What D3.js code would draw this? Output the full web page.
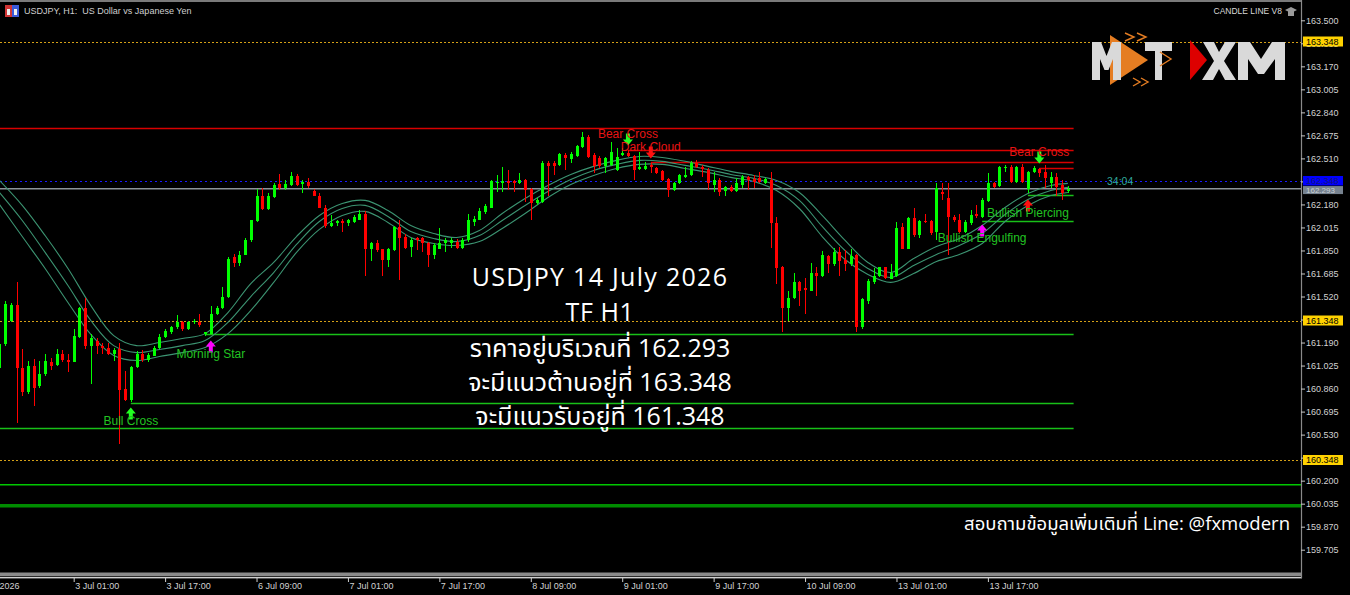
<!DOCTYPE html>
<html><head><meta charset="utf-8">
<script src="https://cdn.jsdelivr.net/npm/d3@7"></script>
<style>
html,body{margin:0;padding:0;background:#000;overflow:hidden;}
svg{display:block;}
</style></head><body>
<svg id="c" width="1350" height="595"></svg>
<script>
// ---------------- DATA ----------------
const openP = [
161.011,161.182,161.348,161.462,161.011,160.832,161.025,160.881,160.967,161.054,
161.032,161.111,161.068,161.054,161.233,161.441,161.168,161.204,161.168,161.154,
161.111,161.147,160.860,160.781,161.018,161.111,161.068,161.097,161.154,161.233,
161.269,161.298,161.334,161.290,161.334,161.334,161.248,161.254,161.398,161.441,
161.513,161.800,161.757,161.821,161.922,162.058,162.237,162.144,162.230,162.323,
162.295,162.316,162.381,162.323,162.338,162.273,162.244,162.158,162.029,162.044,
162.058,162.044,162.051,162.072,162.115,161.857,161.907,161.857,161.785,161.850,
162.015,161.950,161.878,161.936,161.936,161.900,161.814,161.864,161.900,161.900,
161.914,161.871,161.922,162.051,162.072,162.123,162.158,162.331,162.331,162.345,
162.345,162.331,162.352,162.288,162.187,162.194,162.474,162.474,162.460,162.532,
162.503,162.524,162.589,162.661,162.532,162.510,162.453,162.460,162.424,162.532,
162.546,162.524,162.431,162.431,162.460,162.438,162.417,162.359,162.280,162.331,
162.374,162.388,162.474,162.446,162.424,162.316,162.352,162.273,162.302,162.273,
162.316,162.374,162.359,162.367,162.331,162.352,162.044,161.728,161.441,161.506,
161.621,161.578,161.563,161.685,161.670,161.807,161.750,161.836,161.785,161.750,
161.814,161.298,161.491,161.621,161.670,161.728,161.649,161.670,162.015,161.864,
162.080,161.958,162.058,162.058,161.979,162.266,162.223,162.087,162.065,161.979,
162.044,162.108,162.087,162.202,162.331,162.309,162.438,162.446,162.338,162.446,
162.288,162.410,162.431,162.410,162.331,162.374,162.316,162.273];
const highP = [
161.204,161.491,161.477,161.621,161.147,161.061,161.075,161.061,161.111,161.082,
161.147,161.133,161.111,161.290,161.448,161.506,161.254,161.226,161.190,161.190,
161.154,161.190,160.989,161.025,161.126,161.133,161.118,161.168,161.248,161.290,
161.312,161.384,161.348,161.348,161.362,161.398,161.269,161.455,161.455,161.585,
161.800,161.828,161.843,161.936,162.072,162.288,162.295,162.259,162.331,162.395,
162.352,162.410,162.395,162.352,162.367,162.288,162.259,162.173,162.101,162.072,
162.079,162.079,162.101,162.137,162.130,161.914,161.922,161.864,161.871,162.022,
162.065,161.965,161.936,161.950,161.950,161.914,161.900,162.008,161.936,161.943,
161.929,161.936,162.115,162.094,162.158,162.180,162.352,162.388,162.446,162.424,
162.352,162.403,162.359,162.295,162.223,162.489,162.489,162.489,162.546,162.546,
162.553,162.603,162.697,162.675,162.546,162.524,162.517,162.625,162.582,162.582,
162.567,162.532,162.553,162.481,162.474,162.446,162.424,162.367,162.338,162.395,
162.446,162.489,162.496,162.460,162.438,162.410,162.367,162.309,162.316,162.367,
162.388,162.381,162.388,162.410,162.367,162.410,162.087,161.742,161.556,161.692,
161.628,161.656,161.757,161.728,161.843,161.821,161.871,161.878,161.850,161.857,
161.828,161.506,161.642,161.721,161.735,161.735,161.750,162.051,162.044,162.087,
162.151,162.065,162.115,162.065,162.331,162.331,162.331,162.101,162.115,162.065,
162.137,162.173,162.223,162.403,162.338,162.453,162.460,162.460,162.453,162.467,
162.417,162.453,162.438,162.460,162.410,162.403,162.352,162.309];
const lowP = [
160.989,161.168,161.334,160.616,160.810,160.824,160.738,160.867,160.953,160.996,
161.025,161.047,160.982,161.047,161.219,161.147,160.896,161.111,161.111,161.104,
161.061,160.465,160.774,160.767,161.004,161.047,161.054,161.090,161.147,161.219,
161.254,161.290,161.276,161.283,161.326,161.298,161.240,161.248,161.391,161.434,
161.506,161.735,161.742,161.814,161.914,162.051,162.137,162.137,162.223,162.280,
162.280,162.309,162.309,162.259,162.295,162.237,162.151,162.008,162.015,162.029,
161.979,162.029,162.044,162.065,161.670,161.778,161.836,161.670,161.728,161.843,
161.635,161.857,161.800,161.850,161.836,161.735,161.792,161.857,161.836,161.871,
161.864,161.864,161.914,162.029,162.065,162.115,162.151,162.266,162.266,162.280,
162.266,162.323,162.194,162.065,162.173,162.187,162.237,162.388,162.453,162.424,
162.474,162.517,162.582,162.510,162.403,162.438,162.403,162.453,162.417,162.524,
162.517,162.352,162.424,162.424,162.403,162.395,162.345,162.230,162.273,162.323,
162.367,162.381,162.438,162.374,162.280,162.266,162.237,162.244,162.266,162.266,
162.295,162.280,162.295,162.331,162.323,161.871,161.613,161.262,161.348,161.499,
161.455,161.398,161.556,161.527,161.663,161.685,161.742,161.670,161.706,161.742,
161.262,161.290,161.469,161.613,161.663,161.649,161.642,161.663,161.857,161.857,
161.950,161.943,162.044,161.958,161.922,162.209,161.814,162.051,161.972,161.972,
162.036,162.080,162.080,162.194,162.295,162.302,162.410,162.331,162.331,162.331,
162.259,162.403,162.374,162.295,162.295,162.244,162.209,162.259];
const closeP = [
161.182,161.469,161.462,161.011,160.839,161.025,160.867,160.967,161.061,161.025,
161.111,161.068,161.047,161.240,161.441,161.168,161.219,161.168,161.154,161.111,
161.140,160.853,160.781,161.018,161.111,161.068,161.104,161.154,161.233,161.276,
161.298,161.334,161.290,161.334,161.341,161.319,161.262,161.398,161.441,161.520,
161.792,161.757,161.821,161.922,162.065,162.237,162.144,162.237,162.316,162.295,
162.323,162.381,162.316,162.338,162.309,162.244,162.158,162.029,162.044,162.058,
162.044,162.065,162.087,162.115,161.857,161.907,161.850,161.785,161.857,162.015,
161.943,161.871,161.922,161.922,161.900,161.814,161.886,161.900,161.922,161.922,
161.871,161.922,162.065,162.079,162.130,162.166,162.345,162.338,162.345,162.331,
162.331,162.352,162.280,162.187,162.209,162.474,162.453,162.453,162.539,162.510,
162.539,162.596,162.661,162.517,162.453,162.453,162.510,162.553,162.517,162.546,
162.524,162.424,162.446,162.453,162.446,162.403,162.352,162.280,162.331,162.388,
162.388,162.474,162.446,162.431,162.331,162.352,162.266,162.302,162.273,162.331,
162.374,162.352,162.338,162.338,162.359,162.044,161.721,161.441,161.506,161.621,
161.563,161.570,161.685,161.670,161.814,161.750,161.836,161.778,161.750,161.807,
161.298,161.499,161.628,161.670,161.728,161.656,161.685,162.008,161.864,162.080,
161.958,162.058,162.051,161.972,162.295,162.252,162.087,162.065,161.979,162.051,
162.101,162.094,162.209,162.331,162.302,162.446,162.446,162.338,162.446,162.338,
162.410,162.438,162.403,162.367,162.374,162.302,162.259,162.293];

// ribbon (three-line band), read at these bar indices
const ribbonBars = [0,4,8,12,16,20,24,28,32,36,40,44,48,52,56,60,64,68,72,76,80,84,88,92,96,100,104,108,112,116,120,124,128,132,136,140,144,148,152,156,160,164,168,172,176,180,184,187];
const ribbonUpper = [162.352,162.173,161.957,161.721,161.455,161.240,161.168,161.190,161.219,161.254,161.405,161.613,161.764,161.950,162.101,162.187,162.209,162.137,162.029,161.972,161.943,161.993,162.115,162.223,162.316,162.395,162.453,162.496,162.524,162.517,162.489,162.453,162.417,162.388,162.352,162.266,162.101,161.922,161.764,161.692,161.792,161.878,161.936,162.029,162.158,162.259,162.316,162.331];
const ribbonMid = [162.266,162.065,161.836,161.599,161.348,161.168,161.118,161.140,161.168,161.204,161.334,161.520,161.692,161.893,162.058,162.151,162.173,162.094,161.986,161.936,161.914,161.957,162.065,162.173,162.273,162.359,162.424,162.467,162.496,162.489,162.460,162.431,162.395,162.367,162.316,162.209,162.022,161.850,161.721,161.656,161.742,161.821,161.886,161.972,162.108,162.216,162.280,162.302];
const ribbonLower = [162.180,161.950,161.721,161.477,161.248,161.097,161.061,161.090,161.118,161.154,161.254,161.420,161.621,161.836,162.001,162.101,162.130,162.051,161.943,161.900,161.886,161.914,162.008,162.115,162.230,162.323,162.388,162.438,162.467,162.467,162.438,162.410,162.374,162.345,162.280,162.151,161.950,161.785,161.678,161.621,161.685,161.771,161.821,161.900,162.058,162.173,162.244,162.266];

const priceTicks = [163.500,163.335,163.170,163.005,162.840,162.675,162.510,162.345,162.180,162.015,161.850,161.685,161.520,161.355,161.190,161.025,160.860,160.695,160.530,160.365,160.200,160.035,159.870,159.705];
const timeTickBars = [-4,13,29,45,61,77,93,109,125,141,157,173];
const timeTickLabels = ["2 Jul 2026","3 Jul 01:00","3 Jul 17:00","6 Jul 09:00","7 Jul 01:00","7 Jul 17:00","8 Jul 09:00","9 Jul 01:00","9 Jul 17:00","10 Jul 09:00","13 Jul 01:00","13 Jul 17:00"];

const keyLevels = [163.348, 161.348, 160.348];   // dotted gold levels
const askPrice = 162.348, bidPrice = 162.293;
const redLevelPrices = [162.725, 162.567, 162.481, 162.438];
const redLevelFrom   = [-2, 110, 114, 182];
const greenLevelPrices = [161.248, 160.760, 160.580, 162.058, 162.245];
const greenLevelFrom   = [36, 23, -2, 172, 180];
const fullGreenLevels = [160.171, 160.020];
const levelEndBar = 188;

const signalLabels = ["Bull Cross","Morning Star","Bear Cross","Dark Cloud","Bear Cross","Bullish Engulfing","Bullish Piercing"];
const signalBars   = [23, 37, 110, 114, 182, 172, 180];
const signalDir    = ["up","up","down","down","down","up","up"];
const signalKind   = ["cross","star","cross","pattern","cross","star","pattern"];

const countdown = "34:04";
const titleText = "USDJPY, H1:  US Dollar vs Japanese Yen";
const overlayLines = ["USDJPY 14 July 2026","TF H1","ราคาอยู่บริเวณที่ 162.293","จะมีแนวต้านอยู่ที่ 163.348","จะมีแนวรับอยู่ที่ 161.348"];
const footerText = "สอบถามข้อมูลเพิ่มเติมที่ Line: @fxmodern";

// ---------------- DRAW ----------------
const W = 1350, H = 595, plotRight = 1301;
const svg = d3.select("#c");
const x = d3.scaleLinear().domain([0, 187]).range([-0.6, 1067.9]);
const y = d3.scaleLinear().domain([163.5, 159.705]).range([20.3, 549.7]);
const BULL = "#00ff00", BEAR = "#ff0000";
const AXF = "'Liberation Sans', Arial, sans-serif";

svg.append("rect").attr("width", W).attr("height", H).attr("fill", "#000");
svg.append("defs").append("clipPath").attr("id", "plot")
  .append("rect").attr("x", 0).attr("y", 2).attr("width", plotRight).attr("height", 570);
const g = svg.append("g").attr("clip-path", "url(#plot)");

// logo
(function logo(){
  const L = svg.append("g");
  const P = a => a.map(p => p.join(",")).join(" ");
  L.append("polygon").attr("points", P([[1110,35],[1148,60],[1110,85]])).attr("fill", "#e57d22");
  L.append("polygon").attr("fill", "#d9d9d9").attr("points",
    P([[1092,42],[1101,42],[1106.5,56],[1112,42],[1121,42],[1121,80],[1113,80],[1113,59],[1108.5,70],[1104.5,70],[1100,59],[1100,80],[1092,80]]));
  L.append("polygon").attr("fill", "#d9d9d9").attr("points",
    P([[1145,42],[1172,42],[1172,51],[1162,51],[1162,80],[1155,80],[1155,51],[1145,51]]));
  const ch = [[[1125,33],[1134,37],[1125,41]],[[1137,33],[1146,37],[1137,41]],
              [[1160,52],[1171,59],[1160,66]],[[1133,78],[1140,82],[1133,86]],[[1141,78],[1148,82],[1141,86]]];
  ch.forEach(c => L.append("polyline").attr("points", P(c)).attr("fill", "none").attr("stroke", "#e57d22").attr("stroke-width", 1.4));
  L.append("polygon").attr("points", P([[1190,40],[1207,60],[1190,80]])).attr("fill", "#dd0000");
  L.append("polygon").attr("fill", "#d9d9d9").attr("points",
    P([[1203,42],[1214,42],[1219,52],[1225,42],[1236,42],[1224,61],[1236,80],[1225,80],[1219,69],[1213,80],[1202,80],[1214,61]]));
  L.append("polygon").attr("fill", "#d9d9d9").attr("points",
    P([[1238,42],[1250,42],[1261,59],[1272,42],[1285,42],[1285,80],[1275,80],[1275,59],[1264,74],[1258,74],[1248,59],[1248,80],[1238,80]]));
})();

// dotted gold key levels
g.selectAll("line.key").data(keyLevels).join("line")
  .attr("x1", 0).attr("x2", plotRight).attr("y1", d => Math.round(y(d)) + 0.5).attr("y2", d => Math.round(y(d)) + 0.5)
  .attr("stroke", "#d4a017").attr("stroke-dasharray", "2,2").attr("stroke-width", 1);

// full-width green levels
g.append("line").attr("x1", 0).attr("x2", plotRight).attr("y1", y(fullGreenLevels[0])).attr("y2", y(fullGreenLevels[0]))
  .attr("stroke", "#00c800").attr("stroke-width", 1.6);
g.append("line").attr("x1", 0).attr("x2", plotRight).attr("y1", y(fullGreenLevels[1])).attr("y2", y(fullGreenLevels[1]))
  .attr("stroke", "#008c00").attr("stroke-width", 3.5);

// red / green pattern levels
redLevelPrices.forEach((p, k) => g.append("line")
  .attr("x1", Math.max(0, x(redLevelFrom[k]))).attr("x2", x(levelEndBar))
  .attr("y1", Math.round(y(p)) + 0.5).attr("y2", Math.round(y(p)) + 0.5)
  .attr("stroke", "#d80000").attr("stroke-width", 1.3));
greenLevelPrices.forEach((p, k) => g.append("line")
  .attr("x1", Math.max(0, x(greenLevelFrom[k]))).attr("x2", x(levelEndBar))
  .attr("y1", Math.round(y(p)) + 0.5).attr("y2", Math.round(y(p)) + 0.5)
  .attr("stroke", "#18c018").attr("stroke-width", 1.3));

// ask / bid lines
g.append("line").attr("x1", 0).attr("x2", plotRight).attr("y1", Math.round(y(askPrice)) + 0.5).attr("y2", Math.round(y(askPrice)) + 0.5)
  .attr("stroke", "#1a1aff").attr("stroke-dasharray", "2,3");
g.append("line").attr("x1", 0).attr("x2", plotRight).attr("y1", y(bidPrice)).attr("y2", y(bidPrice))
  .attr("stroke", "#8c939a").attr("stroke-width", 1.6);

// ribbon
[ribbonUpper, ribbonMid, ribbonLower].forEach(arr => {
  const line = d3.line().x((d, k) => x(ribbonBars[k])).y(d => y(d)).curve(d3.curveCatmullRom);
  g.append("path").attr("d", line(arr)).attr("fill", "none").attr("stroke", "#3c9472").attr("stroke-width", 1.1);
});

// candles
const bars = d3.range(openP.length);
const col = i => closeP[i] >= openP[i] ? BULL : BEAR;
const cg = g.append("g").attr("shape-rendering", "crispEdges");
cg.selectAll("line").data(bars).join("line")
  .attr("x1", i => Math.round(x(i)) + 0.5).attr("x2", i => Math.round(x(i)) + 0.5)
  .attr("y1", i => y(highP[i])).attr("y2", i => y(lowP[i])).attr("stroke", col);
cg.selectAll("rect").data(bars).join("rect")
  .attr("x", i => Math.round(x(i)) - 1).attr("width", 3)
  .attr("y", i => y(Math.max(openP[i], closeP[i])))
  .attr("height", i => Math.max(1, Math.abs(y(openP[i]) - y(closeP[i]))))
  .attr("fill", col);

// signals
const arrowCol = {cross: "#22ff22", star: "#ff00ff", pattern: "#ff1010"};
signalBars.forEach((b, k) => {
  const cx = x(b), up = signalDir[k] === "up";
  const c = arrowCol[signalKind[k]];
  const txtCol = up ? "#22c322" : "#e81414";
  let top, textY;
  if (up) { top = y(lowP[b]) + 6; textY = top + 13; }
  else { top = y(highP[b]) - 17; textY = top; }
  const hw = 5, hh = 6, sw = 2, len = 12;
  let pts;
  if (up) pts = [[cx, top],[cx+hw, top+hh],[cx+sw, top+hh],[cx+sw, top+len],[cx-sw, top+len],[cx-sw, top+hh],[cx-hw, top+hh]];
  else pts = [[cx, top+len],[cx+hw, top+len-hh],[cx+sw, top+len-hh],[cx+sw, top],[cx-sw, top],[cx-sw, top+len-hh],[cx-hw, top+len-hh]];
  g.append("polygon").attr("points", pts.map(p => p.join(",")).join(" ")).attr("fill", c);
  g.append("text").attr("x", cx).attr("y", textY).attr("dy", "0.35em").attr("text-anchor", "middle")
    .attr("fill", txtCol).style("font", `12px ${AXF}`).text(signalLabels[k]);
});

// countdown
g.append("text").attr("x", 1107).attr("y", y(askPrice)).attr("dy", "0.35em")
  .attr("fill", "#2fa89b").style("font", `10.5px ${AXF}`).text(countdown);

// overlay text
const thai = "'Open Sans','Noto Sans Thai','Noto Sans Thai UI','Noto Looped Thai','Noto Sans',sans-serif";
const oy = [277, 312, 348, 382, 416];
const ls = [1.3, 0.6, 0, 0, 0];
overlayLines.forEach((t, k) => svg.append("text").attr("x", 600).attr("y", oy[k]).attr("dy", "0.35em")
  .attr("text-anchor", "middle").attr("fill", "#ffffff").style("letter-spacing", ls[k] + "px")
  .style("font", `25px ${thai}`).text(t));
svg.append("text").attr("x", 1290).attr("y", 524).attr("dy", "0.35em").attr("text-anchor", "end")
  .attr("fill", "#ffffff").style("font", `18.5px ${thai}`).text(footerText);

// frame lines
svg.append("rect").attr("x", 0).attr("y", 0).attr("width", plotRight + 1).attr("height", 2).attr("fill", "#7a7a7a");
svg.append("rect").attr("x", 0).attr("y", 572.5).attr("width", plotRight + 1).attr("height", 3.5).attr("fill", "#8a8a8a");
svg.append("rect").attr("x", 0).attr("y", 576.8).attr("width", plotRight + 1).attr("height", 1.6).attr("fill", "#d0d0d0");
svg.append("line").attr("x1", plotRight + 0.5).attr("x2", plotRight + 0.5).attr("y1", 0).attr("y2", 578)
  .attr("stroke", "#8a8a8a").attr("stroke-width", 1.2);

// price axis
const gy = svg.append("g").attr("transform", `translate(${plotRight},0)`)
  .call(d3.axisRight(y).tickValues(priceTicks).tickFormat(d3.format(".3f")).tickSize(4).tickPadding(1));
gy.select(".domain").remove();
gy.selectAll("line").attr("stroke", "#c8c8c8");
gy.selectAll("text").attr("fill", "#d2d2d2").style("font", `9px ${AXF}`);

// highlighted price boxes
const boxes = [
  {p: keyLevels[0], bg: "#ffd200", fg: "#000", top: -5, h: 10},
  {p: askPrice, bg: "#0000ff", fg: "#14147a", top: -5, h: 9.5},
  {p: bidPrice, bg: "#76828f", fg: "#c9d0d6", top: -2.6, h: 8},
  {p: keyLevels[1], bg: "#ffd200", fg: "#000", top: -5, h: 10},
  {p: keyLevels[2], bg: "#ffd200", fg: "#000", top: -5, h: 10}];
boxes.forEach(bx => {
  const yy = y(bx.p);
  svg.append("rect").attr("x", plotRight + 2).attr("y", yy + bx.top).attr("width", 40).attr("height", bx.h).attr("fill", bx.bg);
  svg.append("text").attr("x", plotRight + 5).attr("y", yy + bx.top + bx.h / 2).attr("dy", "0.35em").attr("fill", bx.fg)
    .style("font", `${bx.h < 9 ? 8 : 9}px ${AXF}`).text(d3.format(".3f")(bx.p));
});

// time axis
const gx = svg.append("g").attr("transform", "translate(0,578)")
  .call(d3.axisBottom(x).tickValues(timeTickBars).tickFormat((d, k) => timeTickLabels[k]).tickSize(4).tickPadding(1));
gx.select(".domain").remove();
gx.selectAll("line").attr("stroke", "#d0d0d0");
gx.selectAll("text").attr("fill", "#d2d2d2").attr("text-anchor", "start").attr("dx", 1).style("font", `9px ${AXF}`);

// title + icon
svg.append("rect").attr("x", 5).attr("y", 5).attr("width", 7).attr("height", 12).attr("fill", "#d03535");
svg.append("rect").attr("x", 12).attr("y", 5).attr("width", 7).attr("height", 12).attr("fill", "#3a5ad8");
svg.append("rect").attr("x", 7).attr("y", 9).attr("width", 3).attr("height", 6).attr("fill", "#f0f0f0");
svg.append("rect").attr("x", 14).attr("y", 9).attr("width", 3).attr("height", 6).attr("fill", "#f0f0f0");
svg.append("text").attr("x", 24).attr("y", 11).attr("dy", "0.35em").attr("fill", "#cfcfcf")
  .style("white-space", "pre").style("font", `9px ${AXF}`).text(titleText);
svg.append("text").attr("x", 1282).attr("y", 11).attr("dy", "0.35em").attr("text-anchor", "end").attr("fill", "#d8d8d8")
  .style("font", `8.5px ${AXF}`).text("CANDLE LINE V8");
svg.append("polygon").attr("points", "1285,10 1291,7 1297,10 1291,13").attr("fill", "#9a9a9a");
svg.append("rect").attr("x", 1288).attr("y", 11).attr("width", 6).attr("height", 5).attr("fill", "#9a9a9a");
</script>
</body></html>
